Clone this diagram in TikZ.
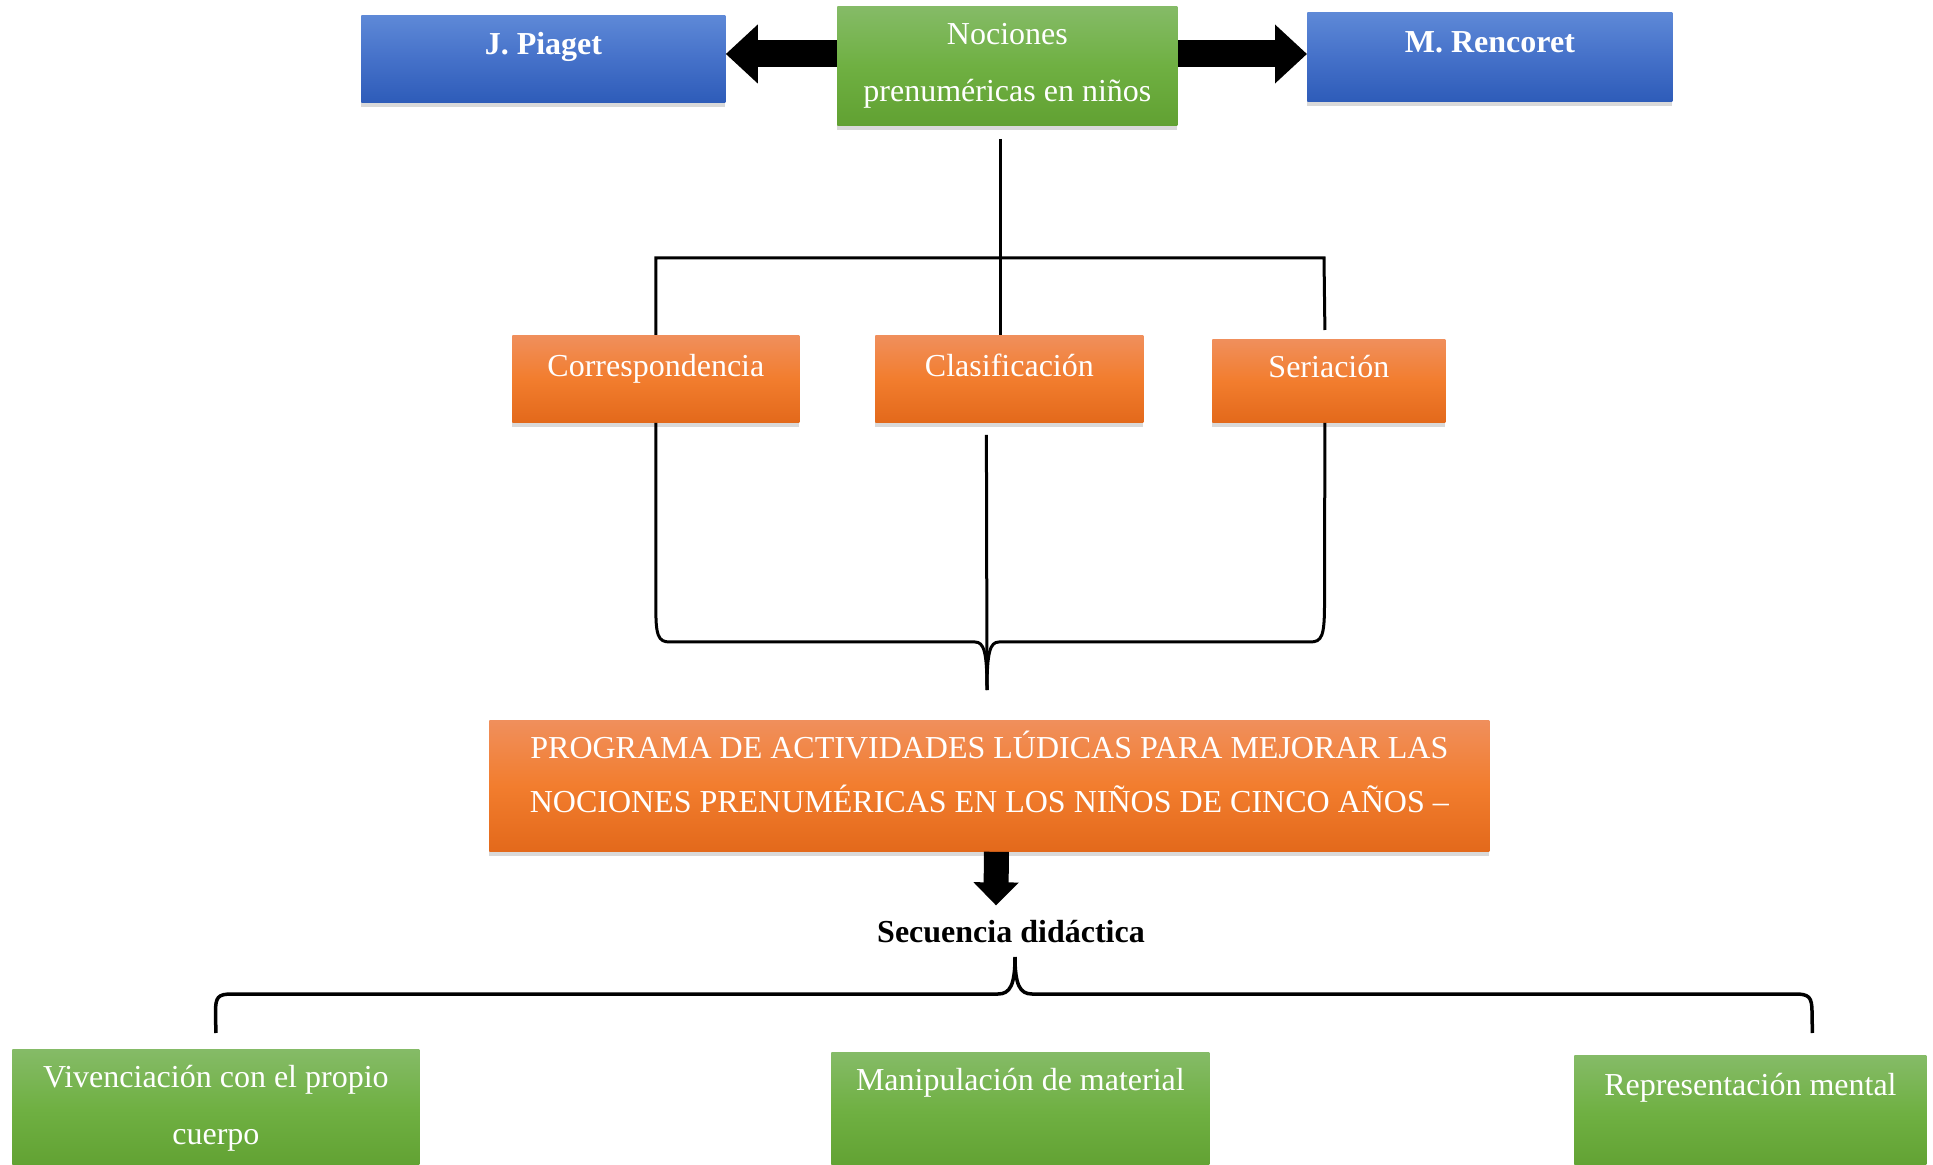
\documentclass[tikz,border=0pt]{standalone}
\usepackage{fontspec}
\setmainfont{Liberation Serif}
\usetikzlibrary{arrows.meta,shadows}
\definecolor{orTop}{HTML}{F08F5C}
\definecolor{orMid}{HTML}{F27D2E}
\definecolor{orBot}{HTML}{E3691B}
\definecolor{grTop}{HTML}{85BB67}
\definecolor{grMid}{HTML}{6FB042}
\definecolor{grBot}{HTML}{61A132}
\definecolor{blTop}{HTML}{5E89D7}
\definecolor{blMid}{HTML}{4571C9}
\definecolor{blBot}{HTML}{2E5CB9}
\tikzset{
box/.style={
  anchor=north west,inner sep=0pt,align=flush center,text=white,
  drop shadow={shadow xshift=0pt,shadow yshift=-2.5pt,fill=black!50,opacity=.3}},
obox/.style={box,top color=orTop,bottom color=orBot,middle color=orMid},
gbox/.style={box,top color=grTop,bottom color=grBot,middle color=grMid},
bbox/.style={box,top color=blTop,bottom color=blBot,middle color=blMid},
bigarrow/.style={line width=13.5pt,-{Triangle[length=16pt,width=28.5pt]}},
downarrow/.style={line width=12.5pt,-{Triangle[length=11.5pt,width=22pt]}},
tree/.style={line width=1.5pt},
brace/.style={line width=1.75pt}}

\begin{document}
\begin{tikzpicture}[x=0.5pt,y=-0.5pt,font=\fontsize{16}{28.5}\selectfont]
\useasboundingbox (0,0) rectangle (1933,1165);
\node[bbox,text width=182pt,text height=19.5pt,text depth=24pt] (piaget) at (361,15) {\bfseries J. Piaget};
\node[gbox,text width=170pt,text height=19pt,text depth=40.5pt] (noc) at (837,6) {Nociones\\prenuméricas en niños};
\node[bbox,text width=182.5pt,text height=20pt,text depth=24.5pt] (renc) at (1307,12) {\bfseries M. Rencoret};
\coordinate (arrowrow) at (0,54);
\draw[bigarrow] (noc.west |- arrowrow) -- (piaget.east |- arrowrow);
\draw[bigarrow] (noc.east |- arrowrow) -- (renc.west |- arrowrow);

\node[obox,text width=143.5pt,text height=20.5pt,text depth=23pt] (corr) at (512,335) {Correspondencia};
\node[obox,text width=134pt,text height=20.5pt,text depth=23pt] (clas) at (875,335) {Clasificación};
\node[obox,text width=116.5pt,text height=19pt,text depth=22.5pt] (seri) at (1212,339) {Seriación};
\coordinate (bar) at (0,258);
\draw[tree] ([xshift=-3.5pt,yshift=-6.5pt]noc.south) -- ([xshift=-4.5pt]clas.north);
\draw[tree] (corr.north) -- (corr.north |- bar) -- (1324,258) -- ([xshift=-2pt,yshift=4.5pt]seri.north);

% llave hacia el programa
\coordinate (cusp) at (987,690);
\draw[tree] (corr.south) -- (corr.south |- 0,604) .. controls (655.5,636) and (658,642) .. (670,642)
  -- (975,642) .. controls (984,642) and (987,652) .. (cusp);
\draw[tree] ([xshift=-2pt]seri.south) -- (1324.5,604) .. controls (1324.5,636) and (1322,642) .. (1310,642)
  -- (999,642) .. controls (990,642) and (987,652) .. (cusp);
\draw[tree] ([xshift=-11.5pt,yshift=-6pt]clas.south) -- (cusp);

\node[obox,text width=500pt,text height=19pt,text depth=46.5pt,font=\fontsize{16}{27}\selectfont] (prog) at (489,720)
  {PROGRAMA DE ACTIVIDADES LÚDICAS PARA MEJORAR LAS\\NOCIONES PRENUMÉRICAS EN LOS NIÑOS DE CINCO AÑOS –};
\node[inner sep=0pt,anchor=base,font=\fontsize{16}{19}\selectfont\bfseries] (sec) at (1011,942) {Secuencia didáctica};
\draw[downarrow] ([xshift=3.5pt]prog.south) -- ([xshift=-7.5pt,yshift=7pt]sec.north);

\node[gbox,text width=203.5pt,text height=19pt,text depth=41pt] (viv) at (12,1049) {Vivenciación con el propio\\cuerpo};
\node[gbox,text width=189pt,text height=19pt,text depth=40pt] (mani) at (831,1052) {Manipulación de material};
\node[gbox,text width=176pt,text height=20pt,text depth=38pt] (repr) at (1574,1055) {Representación mental};

% llave de la secuencia
\coordinate (cusp2) at (1015,957);
\draw[brace] ([yshift=8pt]viv.north) -- (215.5,1012) .. controls (215.5,997) and (218,994) .. (232,994)
  -- (998,994) .. controls (1010,994) and (1015,985) .. (cusp2);
\draw[brace] ([xshift=31pt,yshift=11pt]repr.north) -- (1812,1012) .. controls (1812,997) and (1809,994) .. (1795,994)
  -- (1032,994) .. controls (1020,994) and (1015,985) .. (cusp2);
\end{tikzpicture}
\end{document}
